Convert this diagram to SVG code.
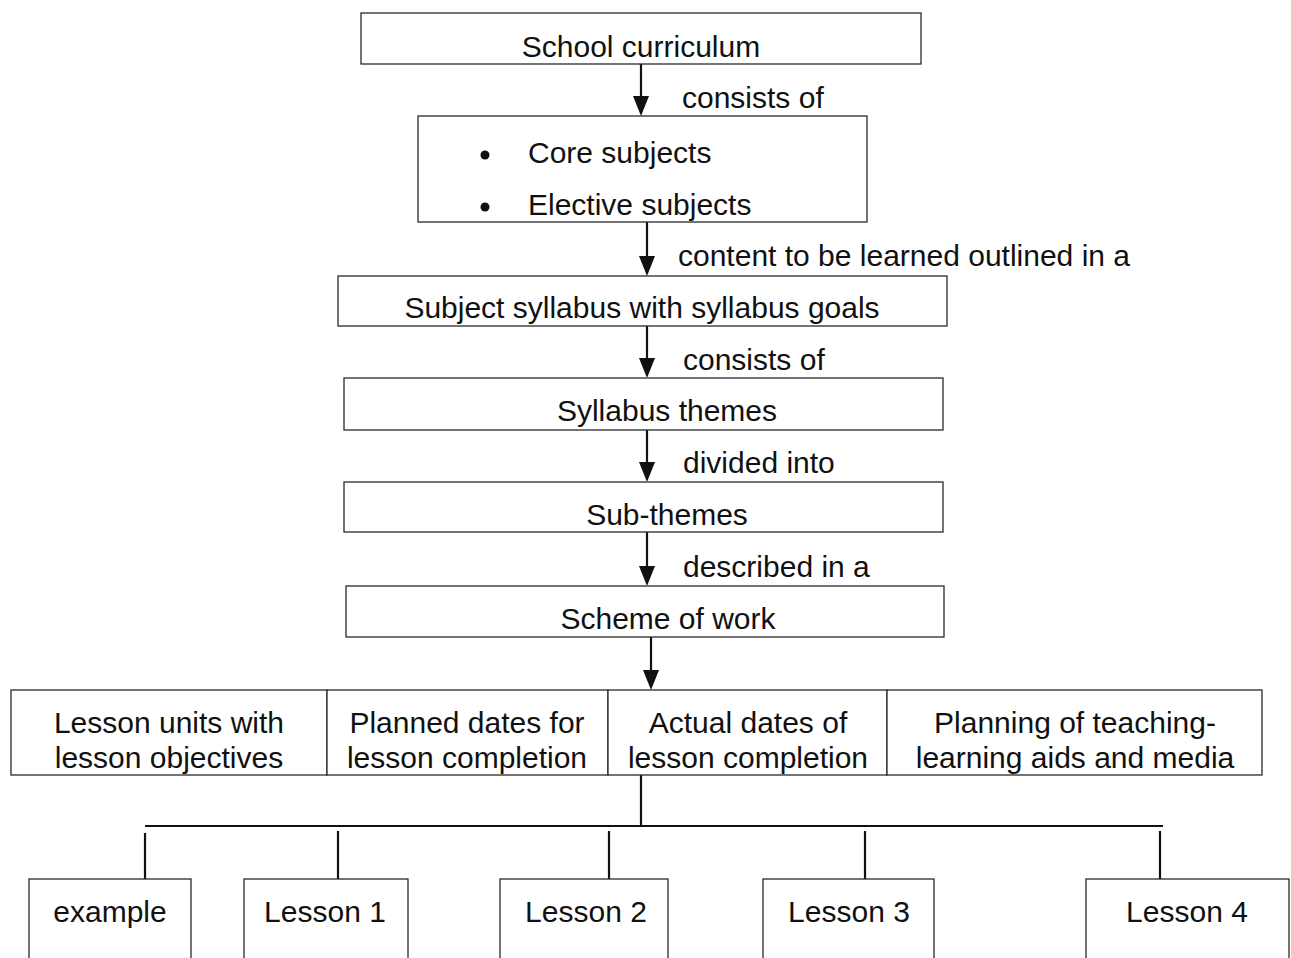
<svg xmlns="http://www.w3.org/2000/svg" width="1291" height="958" viewBox="0 0 1291 958">
  <style>
    .box { fill: #fff; stroke: #2a2a2a; stroke-width: 1.3; }
    .t { font-family: "Liberation Sans", Arial, sans-serif; font-size: 30px; fill: #111; }
    .c { text-anchor: middle; }
    .ln { stroke: #111; stroke-width: 2.2; fill: none; }
  </style>
  <defs>
    <marker id="arrow" viewBox="0 0 16 20" refX="8" refY="20" markerWidth="16" markerHeight="20" markerUnits="userSpaceOnUse" orient="auto-start-reverse">
      <path d="M0,0 L16,0 L8,20 Z" fill="#111"/>
    </marker>
  </defs>
  <rect width="1291" height="958" fill="#fff"/>

  <!-- hierarchy connectors -->
  <g id="connectors">
    <line class="ln" x1="641" y1="64" x2="641" y2="96"/>
    <path d="M633,96 L649,96 L641,116 Z" fill="#111"/>
    <line class="ln" x1="647" y1="222" x2="647" y2="256"/>
    <path d="M639,256 L655,256 L647,276 Z" fill="#111"/>
    <line class="ln" x1="647" y1="326" x2="647" y2="358"/>
    <path d="M639,358 L655,358 L647,378 Z" fill="#111"/>
    <line class="ln" x1="647" y1="430" x2="647" y2="462"/>
    <path d="M639,462 L655,462 L647,482 Z" fill="#111"/>
    <line class="ln" x1="647" y1="532" x2="647" y2="566"/>
    <path d="M639,566 L655,566 L647,586 Z" fill="#111"/>
    <line class="ln" x1="651" y1="637" x2="651" y2="670"/>
    <path d="M643,670 L659,670 L651,690 Z" fill="#111"/>

    <!-- branch to lessons -->
    <line class="ln" x1="641" y1="775" x2="641" y2="826"/>
    <line class="ln" x1="145" y1="826" x2="1163" y2="826"/>
    <line class="ln" x1="145" y1="833" x2="145" y2="880"/>
    <line class="ln" x1="338" y1="831" x2="338" y2="880"/>
    <line class="ln" x1="609" y1="831" x2="609" y2="880"/>
    <line class="ln" x1="865" y1="831" x2="865" y2="880"/>
    <line class="ln" x1="1160" y1="831" x2="1160" y2="880"/>

    <text class="t" x="682" y="108">consists of</text>
    <text class="t" x="678" y="266">content to be learned outlined in a</text>
    <text class="t" x="683" y="370">consists of</text>
    <text class="t" x="683" y="473">divided into</text>
    <text class="t" x="683" y="577">described in a</text>
  </g>

  <g id="school-curriculum">
    <rect class="box" x="361" y="13" width="560" height="51"/>
    <text class="t c" x="641" y="57">School curriculum</text>
  </g>

  <g id="subjects">
    <rect class="box" x="418" y="116" width="449" height="106"/>
    <circle cx="485" cy="155" r="4.5" fill="#111"/>
    <circle cx="485" cy="207" r="4.5" fill="#111"/>
    <text class="t" x="528" y="163">Core subjects</text>
    <text class="t" x="528" y="215">Elective subjects</text>
  </g>

  <g id="subject-syllabus">
    <rect class="box" x="338" y="276" width="609" height="50"/>
    <text class="t c" x="642" y="318">Subject syllabus with syllabus goals</text>
  </g>

  <g id="syllabus-themes">
    <rect class="box" x="344" y="378" width="599" height="52"/>
    <text class="t c" x="667" y="421">Syllabus themes</text>
  </g>

  <g id="sub-themes">
    <rect class="box" x="344" y="482" width="599" height="50"/>
    <text class="t c" x="667" y="525">Sub-themes</text>
  </g>

  <g id="scheme-of-work">
    <rect class="box" x="346" y="586" width="598" height="51"/>
    <text class="t c" x="668" y="629">Scheme of work</text>
  </g>

  <g id="lesson-units">
    <rect class="box" x="11" y="690" width="316" height="85"/>
    <text class="t c" x="169" y="733">Lesson units with</text>
    <text class="t c" x="169" y="768">lesson objectives</text>
  </g>

  <g id="planned-dates">
    <rect class="box" x="327" y="690" width="281" height="85"/>
    <text class="t c" x="467" y="733">Planned dates for</text>
    <text class="t c" x="467" y="768">lesson completion</text>
  </g>

  <g id="actual-dates">
    <rect class="box" x="608" y="690" width="279" height="85"/>
    <text class="t c" x="748" y="733">Actual dates of</text>
    <text class="t c" x="748" y="768">lesson completion</text>
  </g>

  <g id="teaching-aids">
    <rect class="box" x="887" y="690" width="375" height="85"/>
    <text class="t c" x="1075" y="733">Planning of teaching-</text>
    <text class="t c" x="1075" y="768">learning aids and media</text>
  </g>

  <g id="example">
    <rect class="box" x="29" y="879" width="162" height="100"/>
    <text class="t c" x="110" y="922">example</text>
  </g>

  <g id="lesson-1">
    <rect class="box" x="244" y="879" width="164" height="100"/>
    <text class="t c" x="325" y="922">Lesson 1</text>
  </g>

  <g id="lesson-2">
    <rect class="box" x="500" y="879" width="168" height="100"/>
    <text class="t c" x="586" y="922">Lesson 2</text>
  </g>

  <g id="lesson-3">
    <rect class="box" x="763" y="879" width="171" height="100"/>
    <text class="t c" x="849" y="922">Lesson 3</text>
  </g>

  <g id="lesson-4">
    <rect class="box" x="1086" y="879" width="203" height="100"/>
    <text class="t c" x="1187" y="922">Lesson 4</text>
  </g>
</svg>
